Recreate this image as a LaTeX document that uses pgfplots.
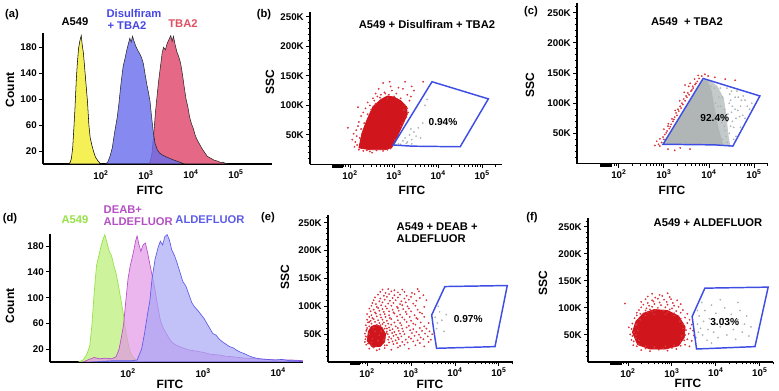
\documentclass[border=0pt]{standalone}
\usepackage{fontspec}
\setmainfont{Liberation Sans}
\usepackage{pgfplots}
\pgfplotsset{compat=1.18}

\definecolor{ayel}{RGB}{244,240,86}
\definecolor{ablu}{RGB}{104,108,236}
\definecolor{ared}{RGB}{226,88,122}
\definecolor{ttblu}{RGB}{70,70,228}
\definecolor{ttred}{RGB}{222,80,98}
\definecolor{dgrn}{RGB}{196,242,140}
\definecolor{dgrnl}{RGB}{150,225,70}
\definecolor{dpnk}{RGB}{226,150,230}
\definecolor{dpnkl}{RGB}{180,80,196}
\definecolor{dblu}{RGB}{168,168,246}
\definecolor{dblul}{RGB}{92,92,232}
\definecolor{sred}{RGB}{208,22,28}
\definecolor{sredl}{RGB}{218,52,62}
\definecolor{sgry}{RGB}{176,182,182}
\definecolor{sgryl}{RGB}{196,202,202}
\definecolor{gate}{RGB}{62,78,228}

\newcommand\tfont{\fontsize{7.3}{8}\selectfont\bfseries}
\newcommand\lfont{\fontsize{8.4}{10}\selectfont\bfseries}
\newcommand\afont{\fontsize{9}{10}\selectfont\bfseries}

\pgfplotsset{
  base/.style={scale only axis, anchor=south west, axis lines=left,
    axis line style={-, black, line width=1pt},
    tick align=outside, clip mode=individual,
    major tick length=3pt, minor tick length=1.8pt,
    every tick/.append style={black, line width=0.7pt},
    ticklabel style={font=\tfont, inner sep=1.5pt},
    xtick={2,3,4,5},
    xticklabels={10\textsuperscript{2},10\textsuperscript{3},10\textsuperscript{4},10\textsuperscript{5}},
    ymin=0},
  hist/.style={base, axis line style={line width=0.8pt},
    ytick={20,60,100,140,180}, yticklabels={20,60,100,140,180},
    xtick style={draw=none}},
  fcs/.style={base, ytick={50,100,150,200,250},
    yticklabels={50K,100K,150K,200K,250K},
    minor ytick={10,20,...,260},
    minor xtick={1.845,1.903,1.954,2.301,2.477,2.602,2.699,2.778,2.845,2.903,2.954,
      3.301,3.477,3.602,3.699,3.778,3.845,3.903,3.954,4.301,4.477,4.602,4.699,4.778,
      4.845,4.903,4.954,5.301}},
  pts/.style={only marks, mark=*, mark size=0.45pt, color=#1, fill=#1,
    mark options={draw=none, fill=#1}},
}

\begin{document}
\begin{tikzpicture}[x=0.75pt,y=-0.75pt]
\path[use as bounding box] (0,0) rectangle (779,391);

% ---------- (a) histogram
\begin{axis}[hist, at={(32.25pt,-123pt)}, width=171.75pt, height=98.25pt,
  xmin=0.71, xmax=5.8, ymax=202]
\addplot[draw=black, line width=0.4pt, fill=ayel] coordinates {
(1.25,0)(1.31,2)(1.34,8)(1.37,25)(1.40,60)(1.42,85)(1.45,130)(1.47,152)(1.50,178)
(1.53,190)(1.56,198)(1.58,185)(1.61,170)(1.64,145)(1.67,120)(1.70,95)(1.73,60)
(1.76,40)(1.80,28)(1.84,18)(1.88,10)(1.93,5)(1.98,1)(2.02,0)} \closedcycle;
\addplot[draw=black!85, line width=0.4pt, fill=ared, fill opacity=0.9] coordinates {
(3.05,0)(3.09,3)(3.13,15)(3.17,45)(3.21,80)(3.25,108)(3.28,128)(3.32,150)(3.36,172)
(3.39,180)(3.43,176)(3.47,186)(3.51,192)(3.55,198)(3.58,189)(3.61,197)(3.65,183)
(3.69,172)(3.73,165)(3.77,155)(3.81,138)(3.85,118)(3.89,100)(3.93,88)(3.97,72)
(4.01,62)(4.05,55)(4.09,45)(4.13,38)(4.17,33)(4.21,28)(4.26,22)(4.31,17)(4.36,12)
(4.41,10)(4.46,8)(4.51,6)(4.56,5)(4.61,4)(4.66,2)(4.71,3)(4.76,1)(4.82,0)} \closedcycle;
\addplot[draw=black!85, line width=0.4pt, fill=ablu, fill opacity=0.8] coordinates {
(2.10,0)(2.15,3)(2.20,12)(2.25,25)(2.30,48)(2.36,72)(2.40,95)(2.44,122)(2.49,150)
(2.53,162)(2.57,175)(2.61,186)(2.64,194)(2.67,188)(2.70,197)(2.73,190)(2.77,182)
(2.81,176)(2.86,170)(2.90,164)(2.94,155)(2.98,138)(3.02,122)(3.06,108)(3.09,96)
(3.12,75)(3.16,50)(3.20,32)(3.25,22)(3.30,17)(3.36,14)(3.42,12)(3.48,10)(3.55,8)
(3.62,6)(3.70,4)(3.78,2)(3.85,0)} \closedcycle;
\end{axis}

% ---------- (b) A549 + Disulfiram + TBA2
\begin{axis}[fcs, at={(232.5pt,-123.375pt)}, width=144pt, height=114.375pt,
  xmin=1.09, xmax=5.45, ymax=258]
\addplot[fill=sred, draw=sred, line width=0.6pt, line join=round] coordinates {
(2.20,28)(2.27,53)(2.38,75)(2.52,98)(2.70,110)(2.85,116)(3.00,114)(3.15,108)(3.28,98)
(3.30,85)(3.20,68)(3.10,52)(3.02,38)(2.95,29)(2.80,25)(2.45,25)} -- cycle;
\addplot[pts=sredl] coordinates {
(2.10,30)(2.12,38)(2.15,48)(2.14,58)(2.18,65)(2.05,42)(2.08,52)(1.95,62)(2.20,72)
(2.25,82)(2.18,97)(2.30,88)(2.35,95)(2.30,23)(2.45,22)(2.60,24)(2.75,23)(2.50,20)
(2.85,25)(2.20,25)(2.38,24)(2.92,27)(2.45,100)(2.55,108)(2.62,115)(2.70,118)
(2.78,122)(2.75,138)(2.88,118)(2.95,125)(3.05,120)(3.10,130)(2.65,128)(2.85,112)
(3.20,128)(3.25,140)(3.30,118)(3.15,112)(3.00,115)(2.92,132)(3.66,140)(3.45,125)
(2.40,105)(2.52,112)(2.58,120)(2.90,140)(3.40,132)(3.25,100)(3.30,95)(3.35,108)
(3.28,80)(3.15,65)(3.10,50)(3.02,42)(3.20,70)(3.38,115)(3.32,88)(3.22,92)
(2.16,33)(2.22,45)(2.25,60)(2.32,70)(2.40,85)(2.48,93)(2.58,103)(2.68,113)(2.80,120)};
\addplot[pts=sgry] coordinates {
(3.10,35)(3.20,40)(3.25,45)(3.30,38)(3.35,50)(3.40,42)(3.15,34)(3.45,55)(3.50,48)
(3.38,60)(3.55,62)(3.60,45)(3.40,35)(3.70,100)(3.75,110)(3.65,70)(3.28,36)};
\addplot[draw=gate, line width=1.1pt] coordinates {
(2.98,33)(3.86,140)(5.14,111)(4.50,30)(3.41,31)} -- cycle;
\node[font=\fontsize{7.6}{9}\selectfont\bfseries] at (axis cs:4.11,72) {0.94\%};
\draw[line width=2.2pt] ([yshift=-1.2pt]axis cs:1.59,0) -- ([yshift=-1.2pt]axis cs:1.84,0);
\end{axis}

% ---------- (c) A549 + TBA2
\begin{axis}[fcs, at={(432.75pt,-122.7pt)}, width=143.25pt, height=120.45pt,
  xmin=1.07, xmax=5.31, ymax=266]
\addplot[fill=sgryl, draw=sgryl, line width=0.6pt, line join=round] coordinates {
(3.00,33)(3.86,139)(4.02,137)(4.18,128)(4.32,108)(4.38,78)(4.42,48)(4.46,31)} -- cycle;
\addplot[fill=sgry, draw=sgry, line width=0.6pt, line join=round] coordinates {
(3.00,33)(3.86,139)(3.97,136)(4.05,120)(4.12,90)(4.20,60)(4.30,32)} -- cycle;
\addplot[pts=sgry] coordinates {
(4.30,40)(4.35,55)(4.40,70)(4.20,95)(4.30,110)(4.45,100)(4.50,85)(4.55,60)(4.60,45)
(4.25,125)(4.40,125)(4.70,95)(4.75,80)(4.65,110)(4.80,105)(4.80,75)(4.50,120)
(4.90,90)(4.35,90)(4.45,50)(4.20,80)(4.28,68)(4.12,125)(4.05,128)(4.60,75)(4.40,35)
(4.70,60)(4.95,100)(4.18,45)(4.22,110)(4.32,80)(4.15,100)(4.38,45)(4.26,95)
(4.34,62)(4.42,82)(4.48,105)(4.52,70)(4.58,90)(4.62,120)(4.68,78)(4.55,40)
(4.48,62)(4.52,95)(4.58,110)(4.64,88)(4.72,105)(4.85,95)(4.46,115)(4.76,112)};
\addplot[pts=sredl] coordinates {
(2.91,29)(2.84,37)(2.98,44)(2.91,41)(3.07,54)(3.00,57)(3.16,65)(3.09,62)(3.24,77)
(3.18,74)(3.33,87)(3.27,84)(3.42,98)(3.36,95)(3.51,110)(3.44,107)(3.60,120)(3.53,117)
(3.69,131)(3.64,128)(3.78,141)(3.84,145)(3.98,145)(4.13,143)(4.36,140)(4.58,138)
(3.91,148)(3.09,24)(3.36,26)(3.58,24)(3.24,22)(3.47,130)(3.58,133)(3.76,146)
(2.95,35)(3.02,48)(3.12,58)(3.20,70)(3.29,80)(3.38,92)(3.47,104)(3.56,114)(3.65,125)
(3.74,136)(2.88,32)(3.05,51)(3.14,61)(3.22,73)(3.31,90)(3.40,100)(3.49,112)(3.62,122)
(3.71,133)(2.80,30)(3.00,40)(3.10,66)(3.25,88)(3.35,104)(3.45,118)(3.55,128)(3.68,140)};
\addplot[draw=gate, line width=1.1pt] coordinates {
(2.98,32)(3.87,141)(5.13,112)(4.53,29)(4.13,31)} -- cycle;
\node[font=\fontsize{7.6}{9}\selectfont\bfseries] at (axis cs:4.13,75) {92.4\%};
\draw[line width=2.2pt] ([yshift=-1.2pt]axis cs:1.58,0) -- ([yshift=-1.2pt]axis cs:1.84,0);
\end{axis}

% ---------- (d) histogram
\begin{axis}[hist, at={(37.5pt,-271.5pt)}, width=189.75pt, height=96pt,
  xmin=0.96, xmax=4.33, ymax=199, xtick={2,3,4},
  xticklabels={10\textsuperscript{2},10\textsuperscript{3},10\textsuperscript{4}}]
\addplot[draw=dgrnl, line width=0.5pt, fill=dgrn, fill opacity=0.85] coordinates {
(1.34,0)(1.40,3)(1.45,12)(1.49,25)(1.52,60)(1.55,110)(1.58,150)(1.61,165)(1.64,180)
(1.67,192)(1.69,198)(1.72,185)(1.75,172)(1.78,165)(1.81,150)(1.84,138)(1.87,120)
(1.90,100)(1.93,80)(1.96,55)(1.99,35)(2.02,18)(2.06,8)(2.12,2)(2.20,0)} \closedcycle;
\addplot[draw=dpnkl, line width=0.5pt, fill=dpnk, fill opacity=0.7] coordinates {
(1.40,0)(1.48,4)(1.55,7)(1.62,5)(1.70,6)(1.78,5)(1.84,8)(1.88,20)(1.91,38)(1.94,58)
(1.97,95)(2.00,130)(2.03,150)(2.07,170)(2.10,188)(2.12,196)(2.14,185)(2.17,172)
(2.20,182)(2.23,185)(2.26,170)(2.29,152)(2.32,135)(2.35,118)(2.39,90)(2.43,65)
(2.47,52)(2.52,42)(2.56,34)(2.60,29)(2.66,25)(2.73,22)(2.80,19)(2.90,17)(3.00,15)
(3.10,12)(3.20,11)(3.30,9)(3.40,8)(3.55,6)(3.70,5)(3.85,4)(4.00,3)(4.20,3)(4.33,2)} \closedcycle;
\addplot[draw=dblul, line width=0.5pt, fill=dblu, fill opacity=0.7] coordinates {
(1.50,0)(1.80,2)(2.05,2)(2.12,3)(2.18,20)(2.22,45)(2.26,75)(2.29,95)(2.32,130)
(2.36,160)(2.40,178)(2.43,188)(2.46,182)(2.49,195)(2.52,198)(2.55,190)(2.58,175)
(2.62,165)(2.65,155)(2.69,140)(2.73,125)(2.77,118)(2.81,105)(2.85,92)(2.89,85)
(2.93,80)(2.97,74)(3.01,68)(3.05,60)(3.09,52)(3.13,44)(3.17,42)(3.21,36)(3.25,32)
(3.30,28)(3.35,24)(3.40,22)(3.45,18)(3.50,15)(3.55,13)(3.60,10)(3.67,7)(3.75,5)
(3.85,4)(3.95,3)(4.05,4)(4.15,2)(4.25,2)(4.33,1)} \closedcycle;
\end{axis}

% ---------- (e) A549 + DEAB + ALDEFLUOR
\begin{axis}[fcs, at={(246pt,-271.5pt)}, width=138.75pt, height=110.25pt,
  xmin=1.11, xmax=5.32, ymax=264]
\addplot[fill=sred, draw=sred, line width=0.6pt, line join=round] coordinates {
(2.00,38)(2.03,55)(2.10,64)(2.22,67)(2.34,62)(2.42,50)(2.40,36)(2.30,28)(2.12,27)} -- cycle;
\addplot[pts=sredl] coordinates {
(2.05,24)(2.15,26)(2.28,23)(2.40,25)(2.55,22)(2.70,26)(2.95,24)(2.22,21)
(1.98,31)(2.10,29)(2.45,30)(2.60,32)(2.75,29)(2.85,31)(3.10,30)(3.30,28)
(1.95,36)(2.50,35)(2.58,37)(2.68,34)(2.80,36)(2.92,35)(3.05,37)(3.20,34)(3.40,36)
(1.96,41)(2.48,40)(2.55,42)(2.65,39)(2.72,41)(2.88,40)(3.00,42)(3.15,39)(3.28,41)(3.45,40)
(1.97,46)(2.50,45)(2.60,47)(2.70,44)(2.78,46)(2.95,45)(3.08,47)(3.22,44)(3.38,46)
(1.95,51)(2.47,50)(2.57,52)(2.66,49)(2.75,51)(2.85,50)(3.02,52)(3.18,49)(3.32,51)(3.48,50)
(1.98,56)(2.45,55)(2.52,57)(2.62,54)(2.72,56)(2.82,55)(2.98,57)(3.12,54)(3.25,56)(3.42,55)
(2.00,61)(2.40,60)(2.50,62)(2.58,59)(2.70,61)(2.80,60)(2.90,62)(3.05,59)(3.20,61)(3.35,60)
(1.97,66)(2.05,64)(2.30,66)(2.42,65)(2.55,67)(2.65,64)(2.78,66)(2.95,65)(3.10,67)(3.30,64)
(2.02,71)(2.10,69)(2.18,72)(2.28,70)(2.38,71)(2.48,69)(2.62,71)(2.75,70)(2.90,72)(3.05,69)(3.22,71)(3.40,70)
(2.00,76)(2.08,74)(2.15,77)(2.25,75)(2.35,76)(2.45,74)(2.55,77)(2.70,75)(2.85,76)(3.00,74)(3.15,77)
(2.05,81)(2.12,79)(2.22,82)(2.32,80)(2.42,81)(2.52,79)(2.68,82)(2.80,80)(2.97,81)(3.12,79)(3.30,81)
(2.00,86)(2.10,84)(2.20,87)(2.30,85)(2.40,86)(2.50,84)(2.62,87)(2.75,85)(2.90,86)(3.08,84)(3.25,87)
(2.08,91)(2.18,89)(2.28,92)(2.38,90)(2.50,91)(2.60,89)(2.72,92)(2.88,90)(3.00,91)(3.20,89)
(2.05,96)(2.15,94)(2.25,97)(2.35,95)(2.45,96)(2.58,94)(2.70,97)(2.82,95)(2.95,96)(3.15,94)
(2.10,101)(2.22,99)(2.32,102)(2.42,100)(2.55,101)(2.68,99)(2.80,102)(2.92,100)(3.10,101)(3.30,99)
(2.12,106)(2.20,104)(2.35,107)(2.48,105)(2.60,106)(2.75,104)(2.88,107)(3.05,105)
(2.15,111)(2.28,109)(2.40,112)(2.52,110)(2.65,111)(2.78,109)(2.95,112)(3.12,110)(3.35,111)
(2.18,116)(2.30,114)(2.45,117)(2.58,115)(2.70,116)(2.85,114)(3.00,117)(3.20,115)
(2.25,121)(2.38,119)(2.50,122)(2.62,120)(2.75,121)(2.90,119)(3.08,122)(3.28,120)
(2.30,126)(2.42,124)(2.55,127)(2.70,125)(2.85,126)(3.02,124)(3.18,127)
(2.35,130)(2.48,131)(2.62,129)(2.80,130)(3.15,131)
(2.00,45)(2.05,50)(2.10,35)(2.12,42)(2.18,55)(2.25,38)(2.28,48)(2.32,55)(2.38,40)
(2.15,62)(2.22,66)(2.02,33)(2.44,52)(2.40,30)(2.35,68)(2.45,60)(1.99,58)(2.05,72)};
\addplot[pts=sgry] coordinates {
(3.55,80)(3.60,70)(3.65,90)(3.58,60)(3.70,75)(3.62,100)(3.75,55)(3.80,85)};
\addplot[draw=gate, line width=1.1pt] coordinates {
(3.77,135.5)(5.19,137.3)(4.91,27.6)(3.58,24.6)(3.51,60.6)(3.47,84.5)} -- cycle;
\node[font=\fontsize{7.6}{9}\selectfont\bfseries] at (axis cs:4.30,77) {0.97\%};
\draw[line width=2.2pt] ([yshift=-1.2pt]axis cs:1.61,0) -- ([yshift=-1.2pt]axis cs:1.84,0);
\end{axis}

% ---------- (f) A549 + ALDEFLUOR
\begin{axis}[fcs, at={(441pt,-271.5pt)}, width=138.75pt, height=108pt,
  xmin=1.09, xmax=5.30, ymax=266]
\addplot[fill=sred, draw=sred, line width=0.6pt, line join=round] coordinates {
(2.10,55)(2.18,75)(2.35,90)(2.60,97)(2.90,95)(3.15,85)(3.30,65)(3.28,45)(3.15,30)
(2.85,24)(2.50,24)(2.22,32)} -- cycle;
\addplot[pts=sredl] coordinates {
(2.30,22)(2.50,20)(2.70,23)(2.90,21)(3.10,24)(2.40,25)(2.60,26)(2.80,25)(3.00,26)
(2.12,31)(2.20,29)(3.20,30)(3.30,32)(3.40,29)(2.25,33)
(2.08,41)(2.13,38)(3.28,40)(3.35,42)(3.45,39)(2.18,44)
(2.05,51)(2.10,48)(3.30,50)(3.38,52)(3.50,49)(2.14,55)
(2.08,61)(3.32,59)(3.42,62)(3.48,58)(2.02,64)
(2.10,71)(2.18,68)(3.25,70)(3.35,72)(3.45,69)
(2.15,81)(2.25,79)(3.20,80)(3.30,82)(3.40,78)(2.20,86)
(2.20,91)(2.28,89)(2.45,92)(2.55,93)(2.90,92)(3.05,90)(3.20,91)(3.35,89)
(2.25,96)(2.40,95)(2.50,97)(2.62,96)(2.80,95)(2.95,97)(3.10,94)(3.25,96)
(2.30,101)(2.42,99)(2.55,102)(2.68,100)(2.85,101)(3.00,99)(3.15,102)
(2.35,106)(2.48,104)(2.60,107)(2.75,105)(2.90,106)(3.05,104)(3.20,107)
(2.30,111)(2.45,109)(2.58,112)(2.72,110)(2.88,111)(3.02,109)
(2.40,116)(2.55,114)(2.68,117)(2.82,115)(2.98,116)(3.12,114)
(2.45,121)(2.62,119)(2.78,122)(2.95,120)
(2.55,126)(2.72,124)(2.90,127)(1.93,108)
(2.18,50)(2.20,70)(2.28,78)(2.40,86)(2.60,88)(2.85,88)(3.05,86)(3.18,75)(3.25,62)
(3.22,48)(3.20,38)(3.05,31)(2.85,29)(2.60,28)(2.40,29)(2.25,40)(2.22,58)};
\addplot[pts=sgry] coordinates {
(3.55,45)(3.60,55)(3.58,70)(3.62,85)(3.65,62)(3.70,50)(3.72,75)(3.75,95)(3.80,40)
(3.82,60)(3.85,80)(3.90,105)(3.95,55)(3.98,70)(4.00,90)(4.05,45)(4.10,65)(4.15,80)
(4.20,100)(4.25,50)(4.30,70)(4.35,88)(4.40,60)(4.45,42)(4.50,78)(4.55,95)(4.60,55)
(4.65,70)(4.70,85)(4.75,48)(4.80,65)(3.58,95)(3.68,110)(4.10,115)(4.50,110)(3.90,35)};
\addplot[draw=gate, line width=1.1pt] coordinates {
(3.75,136.4)(5.19,138.3)(4.89,28.4)(3.56,24)(3.46,84)} -- cycle;
\node[font=\fontsize{7.6}{9}\selectfont\bfseries] at (axis cs:4.20,73) {3.03\%};
\draw[line width=2.2pt] ([yshift=-1.2pt]axis cs:1.59,0) -- ([yshift=-1.2pt]axis cs:1.86,0);
\end{axis}

% ---------- texts
\node[font=\lfont] at (12,15) {(a)};
\node[font=\lfont] at (75,22) {A549};
\node[font=\lfont, text=ttblu] at (134,14) {Disulfiram};
\node[font=\lfont, text=ttblu] at (127,26) {+ TBA2};
\node[font=\lfont, text=ttred] at (183,24) {TBA2};
\node[font=\afont, rotate=90] at (10,90) {Count};
\node[font=\afont] at (150,190) {FITC};

\node[font=\lfont] at (264,15) {(b)};
\node[font=\lfont] at (427,25) {A549 + Disulfiram + TBA2};
\node[font=\afont, rotate=90] at (270,82) {SSC};
\node[font=\afont] at (412,190) {FITC};

\node[font=\lfont] at (531,12) {(c)};
\node[font=\lfont] at (687,22) {A549~ + TBA2};
\node[font=\afont, rotate=90] at (530,85) {SSC};
\node[font=\afont] at (672,190) {FITC};

\node[font=\lfont] at (10,219) {(d)};
\node[font=\lfont, text=dgrnl] at (75,220) {A549};
\node[font=\lfont, text=dpnkl, anchor=west] at (99,210) {DEAB+};
\node[font=\lfont, text=dpnkl, anchor=west] at (99,222) {ALDEFLUOR};
\node[font=\lfont, text=dblul] at (210,220) {ALDEFLUOR};
\node[font=\afont, rotate=90] at (10,306) {Count};
\node[font=\afont] at (170,384) {FITC};

\node[font=\lfont] at (268,218) {(e)};
\node[font=\lfont, anchor=west] at (392,227) {A549 + DEAB +};
\node[font=\lfont, anchor=west] at (392,239) {ALDEFLUOR};
\node[font=\afont, rotate=90] at (285,277) {SSC};
\node[font=\afont] at (430,384) {FITC};

\node[font=\lfont] at (532,218) {(f)};
\node[font=\lfont] at (708,223) {A549 + ALDEFLUOR};
\node[font=\afont, rotate=90] at (543,283) {SSC};
\node[font=\afont] at (688,383) {FITC};
\end{tikzpicture}
\end{document}
